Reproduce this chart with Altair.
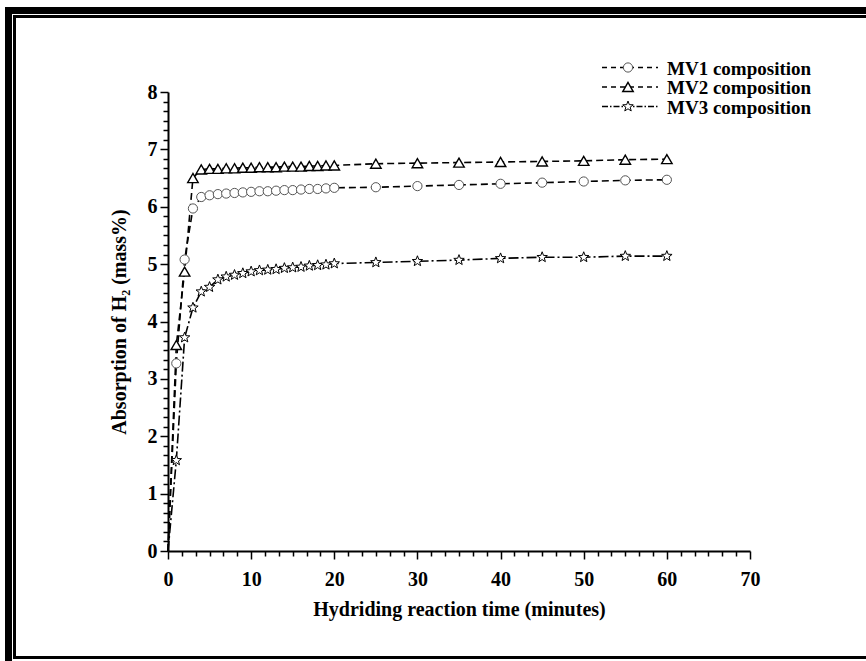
import altair as alt
import pandas as pd

# ---------------- data ----------------
time_min = [0, 1, 2, 3, 4, 5, 6, 7, 8, 9, 10, 11, 12, 13, 14, 15, 16, 17, 18, 19, 20,
            25, 30, 35, 40, 45, 50, 55, 60]
mv1 = [0, 3.27, 5.08, 5.97, 6.17, 6.20, 6.22, 6.23, 6.24, 6.25, 6.26, 6.27, 6.27, 6.28,
       6.29, 6.29, 6.30, 6.31, 6.31, 6.32, 6.33, 6.34, 6.36, 6.38, 6.40, 6.42, 6.44, 6.46, 6.47]
mv2 = [0, 3.59, 4.87, 6.50, 6.65, 6.66, 6.66, 6.67, 6.67, 6.68, 6.68, 6.69, 6.69, 6.69,
       6.70, 6.70, 6.70, 6.71, 6.71, 6.72, 6.72, 6.75, 6.76, 6.77, 6.78, 6.79, 6.80, 6.82, 6.83]
mv3 = [0, 1.58, 3.72, 4.24, 4.52, 4.60, 4.73, 4.78, 4.81, 4.84, 4.87, 4.89, 4.90, 4.91,
       4.93, 4.94, 4.95, 4.97, 4.98, 4.99, 5.01, 5.03, 5.05, 5.07, 5.10, 5.12, 5.12, 5.14, 5.14]
series_names = ["MV1 composition", "MV2 composition", "MV3 composition"]
x_major = [0, 10, 20, 30, 40, 50, 60, 70]
y_major = [0, 1, 2, 3, 4, 5, 6, 7, 8]
x_minor = [i * 10 / 6 for i in range(43) if i % 6 != 0]
y_minor = [i / 6 for i in range(49) if i % 6 != 0]

rows = []
for name, vals in zip(series_names, [mv1, mv2, mv3]):
    for t, v in zip(time_min, vals):
        rows.append({"series": name, "t": t, "v": v})
df = pd.DataFrame(rows)
one = pd.DataFrame({"k": [0]})

FONT = "Liberation Serif"
STAR = ("M0,-1L0.247,-0.34L0.951,-0.309L0.399,0.13L0.588,0.809L0,0.42L-0.588,0.809"
        "L-0.399,0.13L-0.951,-0.309L-0.247,-0.34Z")
dashes = [[7, 4], [7, 4], [10, 3, 2, 3]]
leg_dashes = [[5, 4], [5, 4], [6, 2, 1.5, 2]]
shapes = ["circle", "triangle-up", STAR]
sizes = [85, 110, 120]
strokes = ["#555555", "#000000", "#000000"]
swidths = [1.0, 1.4, 1.0]

xscale = alt.Scale(domain=[0, 70], nice=False, zero=False)
yscale = alt.Scale(domain=[0, 8], nice=False)

lines = alt.Chart(df).mark_line(color="black", strokeWidth=1.6).encode(
    x=alt.X("t:Q", scale=xscale,
            axis=alt.Axis(values=x_major, format="d", orient="bottom",
                          title="Hydriding reaction time (minutes)",
                          tickSize=8, tickWidth=1.5, domainWidth=2,
                          labelPadding=10, titlePadding=10, labelFlush=False)),
    y=alt.Y("v:Q", scale=yscale,
            axis=alt.Axis(values=y_major, format="d", orient="left",
                          title="Absorption of H₂ (mass%)",
                          tickSize=8, tickWidth=1.5, domainWidth=2,
                          labelPadding=3, titlePadding=18, labelFlush=False)),
    detail="series:N",
    strokeDash=alt.StrokeDash("series:N", scale=alt.Scale(domain=series_names, range=dashes),
                              legend=None),
)

minor = alt.Chart(df).mark_point(opacity=0).encode(
    x=alt.X("t:Q", scale=xscale,
            axis=alt.Axis(values=x_minor, labels=False, domain=False, orient="bottom",
                          tickSize=5, tickWidth=1.5, title=None)),
    y=alt.Y("v:Q", scale=yscale,
            axis=alt.Axis(values=y_minor, labels=False, domain=False, orient="left",
                          tickSize=5, tickWidth=1.5, title=None)),
)

point_layers = []
for name, shp, sz, stc, sw in zip(series_names, shapes, sizes, strokes, swidths):
    point_layers.append(
        alt.Chart(df).transform_filter(
            (alt.datum.series == name) & (alt.datum.t > 0)
        ).mark_point(shape=shp, size=sz, stroke=stc, strokeWidth=sw, fill="white",
                     filled=False, opacity=1).encode(
            x=alt.X("t:Q", scale=xscale, axis=None),
            y=alt.Y("v:Q", scale=yscale, axis=None),
        )
    )

# legend (drawn as a small key at top right)
legend_layers = []
leg_y = [-24.5, -5, 14.5]
for name, dsh, shp, sz, stc, sw, ry in zip(series_names, leg_dashes, shapes, sizes, strokes, swidths, leg_y):
    legend_layers.append(alt.Chart(one).mark_rule(color="black", strokeWidth=1.3, strokeDash=dsh).encode(
        x=alt.value(434), x2=alt.value(490), y=alt.value(ry)))
    legend_layers.append(alt.Chart(one).mark_point(shape=shp, size=sz, stroke=stc, strokeWidth=sw,
                                                    fill="white", filled=False, opacity=1).encode(
        x=alt.value(460), y=alt.value(ry)))
    legend_layers.append(alt.Chart(one).mark_text(text=name, font=FONT, fontSize=19, fontWeight="bold",
                                                   align="left", baseline="middle", color="black").encode(
        x=alt.value(499), y=alt.value(ry + 1)))

# double frame around the figure
frame = [
    alt.Chart(one).mark_rule(color="black", strokeWidth=7).encode(
        x=alt.value(-163), x2=alt.value(720), y=alt.value(-81.5)),
    alt.Chart(one).mark_rule(color="black", strokeWidth=7).encode(
        x=alt.value(-159.5), y=alt.value(-85), y2=alt.value(600)),
    alt.Chart(one).mark_rule(color="black", strokeWidth=3).encode(
        x=alt.value(-155), x2=alt.value(720), y=alt.value(-75.5)),
    alt.Chart(one).mark_rule(color="black", strokeWidth=3).encode(
        x=alt.value(-153.5), y=alt.value(-77), y2=alt.value(567)),
    alt.Chart(one).mark_rule(color="black", strokeWidth=3).encode(
        x=alt.value(-155), x2=alt.value(720), y=alt.value(565.5)),
]

chart = alt.layer(lines, minor, *point_layers, *legend_layers, *frame).resolve_axis(
    x="independent", y="independent"
).properties(
    width=582, height=459,
    autosize=alt.AutoSizeParams(type="none"),
    padding={"left": 168, "top": 92, "right": 116, "bottom": 110},
    background="white",
).configure_view(stroke=None).configure_axis(
    labelFont=FONT, titleFont=FONT, labelFontWeight="bold", titleFontWeight="bold",
    labelFontSize=20, titleFontSize=20, labelColor="black", titleColor="black",
    tickColor="black", domainColor="black", grid=False,
)

chart.save("out.html", embed_options={"renderer": "svg", "actions": False})
